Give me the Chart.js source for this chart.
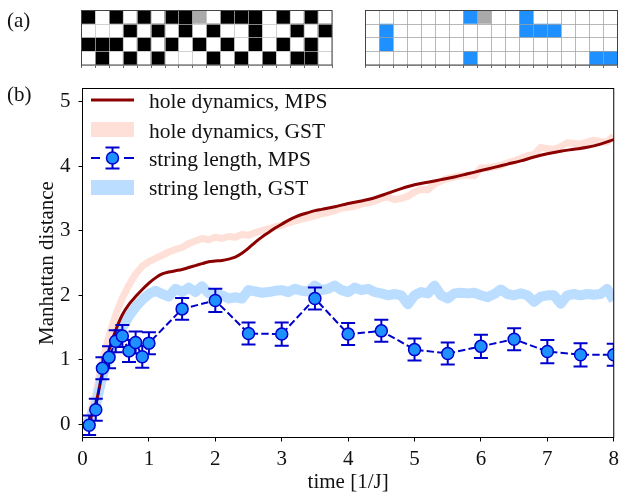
<!DOCTYPE html>
<html>
<head>
<meta charset="utf-8">
<script src="https://cdn.jsdelivr.net/npm/chart.js@4.4.1/dist/chart.umd.min.js"></script>
<style>
  body { margin: 0; background: #fff; }
  canvas { position: absolute; }
  #mainChart { left: 0; top: 0; }
  #spinGrid { left: 70px; top: 0; }
  #stringGrid { left: 354px; top: 0; }
</style>
</head>
<body>
<canvas id="mainChart" width="624" height="493"></canvas>
<canvas id="spinGrid" width="270" height="75"></canvas>
<canvas id="stringGrid" width="270" height="75"></canvas>
<script>
// panel (a): spin snapshot (1 = down, 0 = up, 2 = hole) and string cells (1 = string, 2 = hole)
const spinRows = [
  [1,0,1,0,1,0,1,1,2,0,1,1,1,0,1,0,1,0],
  [0,0,0,1,0,1,0,1,0,1,0,0,1,0,0,1,0,1],
  [1,1,1,0,1,0,1,0,1,0,1,0,1,0,1,0,1,0],
  [0,1,0,1,0,1,0,0,0,1,0,1,0,1,0,1,1,0]
];
const stringRows = [
  [0,0,0,0,0,0,0,1,2,0,0,1,0,0,0,0,0,0],
  [0,1,0,0,0,0,0,0,0,0,0,1,1,1,0,0,0,0],
  [0,1,0,0,0,0,0,0,0,0,0,0,0,0,0,0,0,0],
  [0,0,0,0,0,0,0,1,0,0,0,0,0,0,0,0,1,1]
];
const siteLabels = ['0','1','2','3','4','5','6','7','8','9','10','11','12','13','14','15','16','17'];

// panel (b)
const xTicks = [0, 1, 2, 3, 4, 5, 6, 7, 8];
const yTicks = [0, 1, 2, 3, 4, 5];

const holeMpsTime = [0, 0.1, 0.2, 0.3, 0.4, 0.5, 0.6, 0.7, 0.8, 0.9, 1.0, 1.1, 1.2, 1.3, 1.4, 1.5, 1.6, 1.7, 1.8, 1.9,
  2.0, 2.1, 2.2, 2.3, 2.4, 2.5, 2.6, 2.7, 2.8, 2.9, 3.0, 3.1, 3.2, 3.3, 3.4, 3.5, 3.6, 3.8, 4.0, 4.2, 4.4, 4.6, 4.8,
  5.0, 5.2, 5.4, 5.6, 5.8, 6.0, 6.2, 6.4, 6.6, 6.8, 7.0, 7.2, 7.4, 7.6, 7.8, 8.0];
const holeMps = [0, 0.06, 0.32, 0.80, 1.16, 1.46, 1.70, 1.86, 1.98, 2.09, 2.19, 2.27, 2.33, 2.36, 2.38, 2.40, 2.43, 2.46, 2.49, 2.52,
  2.53, 2.54, 2.56, 2.59, 2.65, 2.73, 2.82, 2.90, 2.97, 3.04, 3.10, 3.16, 3.21, 3.25, 3.28, 3.31, 3.33, 3.37, 3.42, 3.46, 3.51, 3.58, 3.65,
  3.71, 3.75, 3.79, 3.83, 3.88, 3.93, 3.98, 4.03, 4.08, 4.14, 4.19, 4.23, 4.26, 4.29, 4.34, 4.41];

const gstTime = [0, 0.1, 0.2, 0.3, 0.4, 0.5, 0.6, 0.7, 0.8, 0.9, 1.0, 1.1, 1.2, 1.3, 1.4, 1.5, 1.6, 1.7, 1.8, 1.9,
  2.0, 2.1, 2.2, 2.3, 2.4, 2.5, 2.6, 2.7, 2.8, 2.9, 3.0, 3.1, 3.2, 3.3, 3.4, 3.5, 3.6, 3.7, 3.8, 3.9,
  4.0, 4.1, 4.2, 4.3, 4.4, 4.5, 4.6, 4.7, 4.8, 4.9, 5.0, 5.1, 5.2, 5.3, 5.4, 5.5, 5.6, 5.7, 5.8, 5.9,
  6.0, 6.1, 6.2, 6.3, 6.4, 6.5, 6.6, 6.7, 6.8, 6.9, 7.0, 7.1, 7.2, 7.3, 7.4, 7.5, 7.6, 7.7, 7.8, 7.9, 8.0];
const holeGst = [0, 0.12, 0.48, 0.98, 1.38, 1.70, 1.96, 2.16, 2.33, 2.45, 2.52, 2.57, 2.62, 2.67, 2.71, 2.74, 2.80, 2.84, 2.88, 2.86,
  2.90, 2.88, 2.91, 2.90, 2.94, 2.93, 2.97, 3.00, 3.03, 3.06, 3.08, 3.12, 3.15, 3.18, 3.20, 3.23, 3.26, 3.28, 3.31, 3.35,
  3.36, 3.38, 3.41, 3.43, 3.46, 3.50, 3.52, 3.48, 3.50, 3.53, 3.60, 3.64, 3.63, 3.72, 3.77, 3.81, 3.83, 3.85, 3.86, 3.85,
  3.97, 3.97, 3.99, 4.01, 4.05, 4.08, 4.12, 4.16, 4.18, 4.29, 4.27, 4.26, 4.30, 4.36, 4.35, 4.34, 4.37, 4.40, 4.38, 4.37, 4.47];
const stringGst = [0, 0.05, 0.30, 0.75, 1.05, 1.30, 1.50, 1.68, 1.82, 1.93, 2.02, 2.07, 2.02, 1.98, 2.10, 2.05, 2.12, 2.05, 2.14, 2.03,
  2.02, 2.00, 1.95, 1.97, 1.95, 2.08, 2.06, 2.04, 2.05, 2.07, 2.08, 2.05, 2.10, 2.07, 2.06, 2.15, 2.08, 2.10, 2.15, 2.08,
  2.05, 2.12, 2.08, 2.10, 2.05, 2.03, 2.00, 2.02, 2.00, 1.86, 2.00, 2.05, 2.03, 2.15, 2.00, 1.95, 2.03, 2.04, 2.03, 2.04,
  2.00, 1.97, 2.02, 2.09, 2.02, 2.00, 2.03, 2.00, 1.90, 1.98, 2.00, 2.00, 1.87, 2.00, 2.02, 2.00, 2.02, 2.01, 2.02, 2.10, 1.92];

const stringTime = [0.1, 0.2, 0.3, 0.4, 0.5, 0.6, 0.7, 0.8, 0.9, 1.0, 1.5, 2.0, 2.5, 3.0, 3.5, 4.0, 4.5, 5.0, 5.5, 6.0, 6.5, 7.0, 7.5, 8.0];
const stringMps = [-0.01, 0.23, 0.87, 1.04, 1.29, 1.37, 1.14, 1.27, 1.05, 1.26, 1.79, 1.92, 1.41, 1.40, 1.95, 1.40, 1.45, 1.16, 1.10, 1.21, 1.32, 1.13, 1.08, 1.08];
const stringErr = [0.15, 0.17, 0.17, 0.17, 0.17, 0.17, 0.17, 0.17, 0.17, 0.17, 0.17, 0.18, 0.17, 0.18, 0.17, 0.17, 0.17, 0.17, 0.17, 0.18, 0.17, 0.18, 0.18, 0.17];

const FONT = 'Liberation Serif';
const TEXT = '#111';
const DARKRED = '#8B0000';
const SALMON = '#FFE0D8';
const LIGHTBLUE = '#BBDDFF';
const EDGE = '#0000CD';
const FACE = '#1E90FF';

const pts = (xs, ys) => xs.map((x, i) => ({ x: x, y: ys[i] }));

// ---- panel (a) grids ----
function gridChart(id, rows, colorOf, lineColor, pad) {
  // stacked bars, one dataset per row, bottom row first
  const datasets = [];
  for (let r = rows.length - 1; r >= 0; r--) {
    datasets.push({
      data: rows[r].map(() => 1),
      backgroundColor: rows[r].map(colorOf),
      borderWidth: 0,
      barPercentage: 1,
      categoryPercentage: 1
    });
  }
  const frame = {
    id: 'frame',
    afterDraw(chart) {
      const { ctx, chartArea: a } = chart;
      ctx.save();
      ctx.strokeStyle = '#444';
      ctx.lineWidth = 1;
      ctx.strokeRect(a.left, a.top, a.right - a.left, a.bottom - a.top);
      ctx.restore();
    }
  };
  return new Chart(document.getElementById(id), {
    type: 'bar',
    data: { labels: siteLabels, datasets: datasets },
    options: {
      responsive: false,
      animation: false,
      layout: { padding: pad },
      plugins: { legend: { display: false }, tooltip: { enabled: false } },
      scales: {
        x: {
          stacked: true,
          grid: { z: 1, offset: true, color: lineColor, tickColor: '#666', tickLength: 3 },
          ticks: { display: false },
          border: { display: false },
          afterFit: s => { s.height = 3; }
        },
        y: {
          stacked: true,
          min: 0,
          max: 4,
          grid: { z: 1, color: lineColor, drawTicks: false },
          ticks: { display: false, stepSize: 1 },
          border: { display: false },
          afterFit: s => { s.width = 0; }
        }
      }
    },
    plugins: [frame]
  });
}

gridChart('spinGrid', spinRows, v => ['#ffffff', '#000000', '#aaaaaa'][v], 'rgba(190,190,190,0.7)',
  { left: 11.5, right: 8, top: 10.5, bottom: 7 });
gridChart('stringGrid', stringRows, v => ['#ffffff', FACE, '#aaaaaa'][v], 'rgba(160,160,160,0.75)',
  { left: 11.5, right: 6.5, top: 10.5, bottom: 7 });

// ---- panel (b) ----
const errorBars = {
  id: 'errorBars',
  beforeDatasetDraw(chart, args) {
    if (args.index !== 2) return;
    const { ctx, chartArea: a, scales: { x, y } } = chart;
    ctx.save();
    ctx.beginPath();
    ctx.rect(a.left, a.top, a.right - a.left, a.bottom - a.top);
    ctx.clip();
    ctx.strokeStyle = EDGE;
    ctx.lineWidth = 2;
    stringTime.forEach((t, i) => {
      const px = x.getPixelForValue(t);
      const top = y.getPixelForValue(stringMps[i] + stringErr[i]);
      const bot = y.getPixelForValue(stringMps[i] - stringErr[i]);
      ctx.beginPath();
      ctx.moveTo(px, top); ctx.lineTo(px, bot);
      ctx.moveTo(px - 7, top); ctx.lineTo(px + 7, top);
      ctx.moveTo(px - 7, bot); ctx.lineTo(px + 7, bot);
      ctx.stroke();
    });
    ctx.restore();
  }
};

const decorations = {
  id: 'decorations',
  afterDraw(chart) {
    const { ctx, chartArea: a } = chart;
    ctx.save();
    // box around the axes
    ctx.strokeStyle = '#000';
    ctx.lineWidth = 1;
    ctx.strokeRect(a.left, a.top, a.right - a.left, a.bottom - a.top);

    ctx.fillStyle = TEXT;
    ctx.font = '21px "' + FONT + '"';
    ctx.textBaseline = 'middle';

    // panel tags
    ctx.textAlign = 'left';
    ctx.fillText('(a)', 7, 21);
    ctx.fillText('(b)', 7, 95);

    // axis titles
    ctx.textAlign = 'center';
    ctx.fillText('time [1/J]', (a.left + a.right) / 2, 482);
    ctx.save();
    ctx.translate(47, (a.top + a.bottom) / 2);
    ctx.rotate(-Math.PI / 2);
    ctx.fillText('Manhattan distance', 0, 0);
    ctx.restore();

    // legend
    const hx0 = 91, hx1 = 134, hxc = (hx0 + hx1) / 2, tx = 149;
    const rowsY = [100, 129.5, 158, 187.5];
    const names = ['hole dynamics, MPS', 'hole dynamics, GST', 'string length, MPS', 'string length, GST'];

    ctx.lineCap = 'butt';
    ctx.strokeStyle = DARKRED;
    ctx.lineWidth = 3;
    ctx.beginPath(); ctx.moveTo(hx0, rowsY[0]); ctx.lineTo(hx1, rowsY[0]); ctx.stroke();

    ctx.fillStyle = SALMON;
    ctx.fillRect(hx0, rowsY[1] - 7.5, hx1 - hx0, 15);
    ctx.fillStyle = LIGHTBLUE;
    ctx.fillRect(hx0, rowsY[3] - 7.5, hx1 - hx0, 15);

    const ey = rowsY[2];
    ctx.strokeStyle = EDGE;
    ctx.lineWidth = 2;
    ctx.beginPath();
    ctx.moveTo(hx0, ey); ctx.lineTo(hx0 + 9, ey);
    ctx.moveTo(hx1 - 10, ey); ctx.lineTo(hx1, ey);
    ctx.moveTo(hxc, ey - 10.5); ctx.lineTo(hxc, ey + 10.5);
    ctx.moveTo(hxc - 7, ey - 10.5); ctx.lineTo(hxc + 7, ey - 10.5);
    ctx.moveTo(hxc - 7, ey + 10.5); ctx.lineTo(hxc + 7, ey + 10.5);
    ctx.stroke();
    ctx.beginPath();
    ctx.arc(hxc, ey, 6, 0, Math.PI * 2);
    ctx.fillStyle = FACE;
    ctx.fill();
    ctx.lineWidth = 1.5;
    ctx.stroke();

    ctx.fillStyle = TEXT;
    ctx.textAlign = 'left';
    ctx.textBaseline = 'alphabetic';
    ctx.font = '21.5px "' + FONT + '"';
    const baselines = [108, 137.5, 166, 195];
    names.forEach((n, i) => ctx.fillText(n, tx, baselines[i]));
    ctx.restore();
  }
};

new Chart(document.getElementById('mainChart'), {
  type: 'line',
  data: {
    datasets: [
      {
        label: 'hole dynamics, MPS',
        data: pts(holeMpsTime, holeMps),
        borderColor: DARKRED,
        borderWidth: 3,
        pointRadius: 0,
        cubicInterpolationMode: 'monotone',
        order: 1,
        clip: 0
      },
      {
        label: 'hole dynamics, GST',
        data: pts(gstTime, holeGst),
        borderColor: SALMON,
        borderWidth: 7,
        borderJoinStyle: 'round',
        pointRadius: 0,
        tension: 0,
        order: 3,
        clip: 0
      },
      {
        label: 'string length, MPS',
        data: pts(stringTime, stringMps),
        borderColor: EDGE,
        borderWidth: 2,
        borderDash: [7.4, 3.2],
        pointRadius: 6,
        pointBackgroundColor: FACE,
        pointBorderColor: EDGE,
        pointBorderWidth: 1.5,
        tension: 0,
        order: 0,
        clip: 0
      },
      {
        label: 'string length, GST',
        data: pts(gstTime, stringGst),
        borderColor: LIGHTBLUE,
        borderWidth: 10,
        borderJoinStyle: 'round',
        pointRadius: 0,
        tension: 0,
        order: 2,
        clip: 0
      }
    ]
  },
  options: {
    responsive: false,
    animation: false,
    layout: { padding: { top: 88.5, right: 6.5, left: 0, bottom: 0 } },
    plugins: { legend: { display: false }, tooltip: { enabled: false } },
    scales: {
      x: {
        type: 'linear',
        min: 0,
        max: 8,
        afterBuildTicks: s => { s.ticks = xTicks.map(v => ({ value: v })); },
        afterFit: s => { s.height = 55.5; },
        grid: { drawOnChartArea: false, tickColor: '#000', tickLength: 4 },
        border: { color: '#000', width: 1 },
        ticks: { color: TEXT, padding: 5, maxRotation: 0, font: { family: FONT, size: 21 } }
      },
      y: {
        type: 'linear',
        min: -0.2,
        max: 5.2,
        afterBuildTicks: s => { s.ticks = yTicks.map(v => ({ value: v })); },
        afterFit: s => { s.width = 82.5; },
        grid: { drawOnChartArea: false, tickColor: '#000', tickLength: 4 },
        border: { color: '#000', width: 1 },
        ticks: { color: TEXT, padding: 8, font: { family: FONT, size: 21 } }
      }
    }
  },
  plugins: [errorBars, decorations]
});
</script>
</body>
</html>
